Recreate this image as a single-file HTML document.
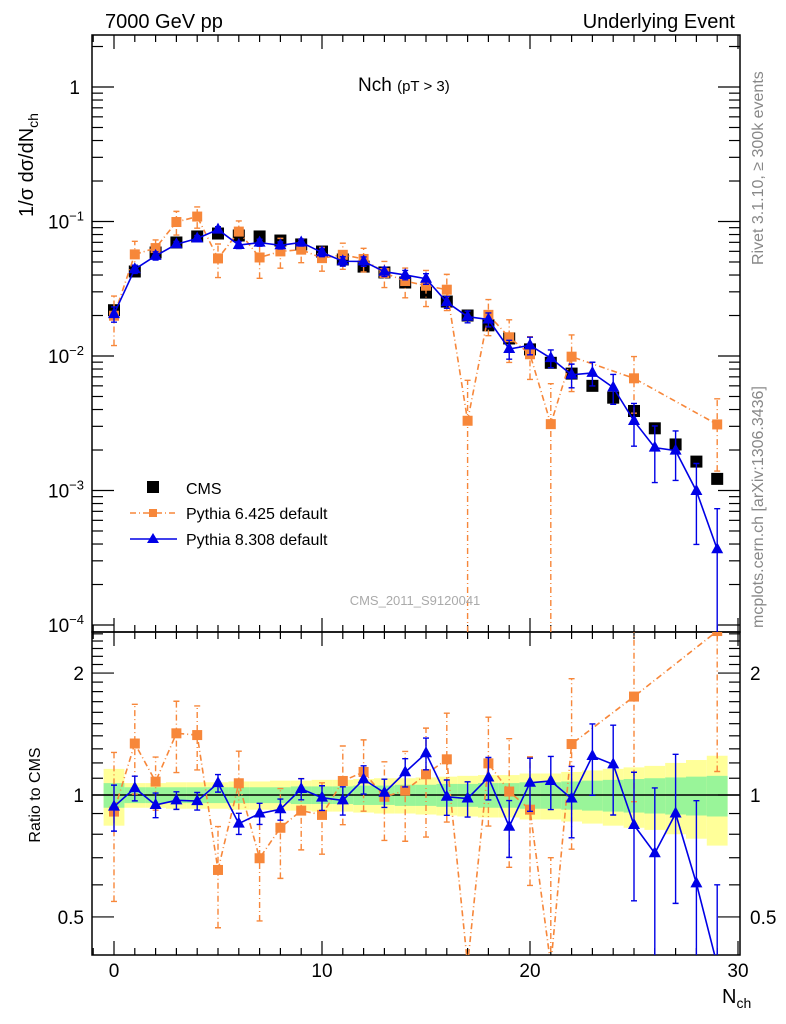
<!DOCTYPE html>
<html><head><meta charset="utf-8"><style>
html,body{margin:0;padding:0;background:#fff;width:786px;height:1024px;overflow:hidden;}
svg{display:block;font-family:"Liberation Sans","DejaVu Sans",sans-serif;}
</style></head><body>
<svg id="c" width="786" height="1024" viewBox="0 0 786 1024">
<defs>
<clipPath id="cm"><rect x="92" y="35" width="648" height="597"/></clipPath>
<clipPath id="cr"><rect x="92" y="632" width="648" height="323"/></clipPath>
</defs>
<g id="bands" clip-path="url(#cr)"></g>
<g id="grid"></g>
<rect x="92" y="35" width="648" height="597" fill="none" stroke="#000" stroke-width="1.5"/>
<rect x="92" y="632" width="648" height="323" fill="none" stroke="#000" stroke-width="1.5"/>
<g id="mainMarks" clip-path="url(#cm)"></g>
<g id="ratioMarks" clip-path="url(#cr)"></g>
<text x="105" y="28" font-size="20">7000 GeV pp</text>
<text x="735" y="28" font-size="20" text-anchor="end">Underlying Event</text>
<text x="358" y="91" font-size="19">Nch <tspan font-size="15">(pT &gt;  3)</tspan></text>
<text transform="translate(33,165) rotate(-90)" font-size="20" text-anchor="middle">1/σ dσ/dN<tspan font-size="14" dy="5">ch</tspan></text>
<text transform="translate(40,795) rotate(-90)" font-size="16" text-anchor="middle">Ratio to CMS</text>
<text x="722" y="1003" font-size="20">N<tspan font-size="14" dy="5">ch</tspan></text>
<text transform="translate(763,265) rotate(-90)" font-size="16" fill="#888">Rivet 3.1.10, ≥ 300k events</text>
<text transform="translate(763,628) rotate(-90)" font-size="16" fill="#888">mcplots.cern.ch [arXiv:1306.3436]</text>
<text x="415" y="605" font-size="13" fill="#aaa" text-anchor="middle">CMS_2011_S9120041</text>
<g>
<rect x="147" y="481" width="12" height="12" fill="#000"/>
<text x="186" y="494" font-size="16">CMS</text>
<line x1="130" y1="513" x2="177" y2="513" stroke="#f7873a" stroke-width="1.5" stroke-dasharray="6,3,1,3"/>
<rect x="149" y="509" width="8" height="8" fill="#f7873a"/>
<text x="186" y="519" font-size="16">Pythia 6.425 default</text>
<line x1="130" y1="539" x2="177" y2="539" stroke="#0000e6" stroke-width="1.5"/>
<path d="M153,533 L159,543 L147,543 Z" fill="#0000e6"/>
<text x="186" y="545" font-size="16">Pythia 8.308 default</text>
</g>
</svg>
<script>
const nch = [0,1,2,3,4,5,6,7,8,9,10,11,12,13,14,15,16,17,18,19,20,21,22,23,24,25,26,27,28,29];
const cmsValues = [0.0219,0.0425,0.0588,0.0698,0.0774,0.0814,0.0787,0.0774,0.0722,0.0675,0.0598,0.0522,0.0462,0.0418,0.0352,0.0296,0.0254,0.0200,0.0169,0.0135,0.0112,0.0089,0.0074,0.0060,0.0049,0.0039,0.0029,0.0022,0.00164,0.00122];
const pythia6Ratio = [0.91,1.34,1.079,1.42,1.406,0.653,1.069,0.698,0.83,0.915,0.893,1.083,1.14,0.99,1.025,1.125,1.225,0.165,1.197,1.02,0.92,0.35,1.336,null,null,1.75,null,null,null,2.54];
const pythia6Err = [0.4,0.25,0.15,0.2,0.18,0.28,0.2,0.3,0.25,0.2,0.2,0.22,0.2,0.22,0.25,0.3,0.3,1.0,0.3,0.35,0.35,1.0,0.45,null,null,0.45,null,null,null,0.55];
const pythia8Ratio = [0.936,1.04,0.945,0.97,0.966,1.07,0.85,0.90,0.922,1.035,0.985,0.97,1.093,1.013,1.138,1.268,0.99,0.98,1.105,0.835,1.072,1.083,0.98,1.248,1.19,0.843,0.718,0.90,0.605,0.30];
const pythia8Err = [0.13,0.07,0.07,0.05,0.05,0.05,0.06,0.06,0.06,0.06,0.07,0.08,0.08,0.08,0.08,0.09,0.1,0.1,0.12,0.16,0.15,0.15,0.2,0.2,0.25,0.35,0.45,0.4,0.6,1.0];
const greenBand = [0.07,0.045,0.045,0.045,0.045,0.045,0.045,0.045,0.045,0.05,0.05,0.05,0.055,0.055,0.06,0.06,0.065,0.065,0.07,0.07,0.075,0.075,0.08,0.085,0.09,0.095,0.1,0.105,0.11,0.115];
const yellowBand = [0.16,0.07,0.07,0.075,0.075,0.075,0.08,0.08,0.085,0.085,0.09,0.09,0.095,0.1,0.1,0.105,0.11,0.115,0.12,0.12,0.13,0.13,0.14,0.15,0.16,0.17,0.18,0.2,0.22,0.25];
const xTicks = [0,10,20,30];
const mainDecades = [-4,-3,-2,-1,0];
const ratioLabels = [0.5,1,2];

const NS="http://www.w3.org/2000/svg";
const X = v => 114 + 20.8*v;
const clampY = (y,a,b) => Math.max(a,Math.min(b,y));
const YM = v => clampY(87 - 134.5*Math.log10(v), 20, 645);
const YR = v => clampY(795 - 405*Math.log10(v), 620, 965);
function mk(parent,tag,attrs){const e=document.createElementNS(NS,tag);for(const k in attrs)e.setAttribute(k,attrs[k]);parent.appendChild(e);return e;}
const grid=document.getElementById('grid'), mm=document.getElementById('mainMarks'), rm=document.getElementById('ratioMarks'), bands=document.getElementById('bands');
const O="#f7873a", B="#0000e6";

nch.forEach((n,i)=>{
  let r=mk(bands,'rect',{x:X(n-0.5),width:20.8,y:YR(1+yellowBand[i]),height:YR(1-yellowBand[i])-YR(1+yellowBand[i]),fill:'#ffff99'});
  
  
});
nch.forEach((n,i)=>{
  let r=mk(bands,'rect',{x:X(n-0.5),width:20.8,y:YR(1+greenBand[i]),height:YR(1-greenBand[i])-YR(1+greenBand[i]),fill:'#99f599'});
  
  
});
let ref=mk(bands,'line',{x1:92,x2:740,y1:YR(1),y2:YR(1),stroke:'#000','stroke-width':1.5});



for(let v=-1;v<=30;v++){
  const major = v%10===0, len = major?14:7;
  [[35,1],[632,-1],[632,1],[955,-1]].forEach(([y0,d])=>{
    let t=mk(grid,'line',{x1:X(v),x2:X(v),y1:y0,y2:y0+d*len,stroke:'#000','stroke-width':1.2});
    
    
  });
}
xTicks.forEach(v=>{
  let t=mk(grid,'text',{x:X(v),y:977,'font-size':19,'text-anchor':'middle'});t.textContent=v;
  
  
});
mainDecades.forEach(d=>{
  for(let m=1;m<=9;m++){
    const v=m*Math.pow(10,d), y=87 - 134.5*Math.log10(v);
    if(y<35||y>632)continue;
    const len=m===1?22:11;
    let t=mk(grid,'line',{x1:92,x2:92+len,y1:y,y2:y,stroke:'#000','stroke-width':1.2});
    
    
    let t2=mk(grid,'line',{x1:740,x2:740-len,y1:y,y2:y,stroke:'#000','stroke-width':1.2});
    
    
  }
  const y=YM(Math.pow(10,d));
  let lbl=mk(grid,'text',{x:d===0?80:84,y:y+7,'font-size':19,'text-anchor':'end'});
  if(d===0){lbl.textContent='1';}
  else{lbl.textContent='10';let s=mk(lbl,'tspan',{dy:-8,'font-size':13});s.textContent=String(d).replace('-','−');}
  
  
});
const rt=[];for(let v=0.5;v<2.55;v+=0.1)rt.push(+v.toFixed(1));
rt.forEach(v=>{
  const y=795 - 405*Math.log10(v); if(y<632||y>955)return;
  const len=(v===0.5||v===1||v===2)?22:11;
  let t=mk(grid,'line',{x1:92,x2:92+len,y1:y,y2:y,stroke:'#000','stroke-width':1.2});
  
  
  let t2=mk(grid,'line',{x1:740,x2:740-len,y1:y,y2:y,stroke:'#000','stroke-width':1.2});
  
  
});
ratioLabels.forEach(v=>{
  let a=mk(grid,'text',{x:84,y:YR(v)+7,'font-size':19,'text-anchor':'end'});a.textContent=v;
  
  
  let b=mk(grid,'text',{x:750,y:YR(v)+7,'font-size':19});b.textContent=v;
  
  
});

function series(g,Y,vals,errs,color,dash,marker,name){
  let d='';vals.forEach((v,i)=>{if(v==null)return;d+=(d?'L':'M')+X(nch[i])+','+Y(v);});
  let p=mk(g,'path',{d:d,fill:'none',stroke:color,'stroke-width':1.6,'stroke-dasharray':dash});
  
  
  vals.forEach((v,i)=>{
    if(v==null)return;
    const x=X(nch[i]), e=errs[i], lo=Math.max(v*(1-e),1e-9), hi=v*(1+e);
    let eb=mk(g,'path',{d:`M${x},${Y(lo)}L${x},${Y(hi)}M${x-3},${Y(lo)}L${x+3},${Y(lo)}M${x-3},${Y(hi)}L${x+3},${Y(hi)}`,stroke:color,'stroke-width':1.4,'stroke-dasharray':dash,fill:'none'});
    
    
    let m;
    if(marker==='sq') m=mk(g,'rect',{x:x-5,y:Y(v)-5,width:10,height:10,fill:color});
    else m=mk(g,'path',{d:`M${x},${Y(v)-7}L${x+6},${Y(v)+4}L${x-6},${Y(v)+4}Z`,fill:color});
    
    
  });
}
const p6Main=cmsValues.map((c,i)=>pythia6Ratio[i]==null?null:c*pythia6Ratio[i]);
const p8Main=cmsValues.map((c,i)=>c*pythia8Ratio[i]);
cmsValues.forEach((v,i)=>{
  let m=mk(mm,'rect',{x:X(nch[i])-6,y:YM(v)-6,width:12,height:12,fill:'#000'});
  
  
});
series(mm,YM,p6Main,pythia6Err,O,'6,3,1,3','sq','pythia6');
series(mm,YM,p8Main,pythia8Err,B,'none','tri','pythia8');
series(rm,YR,pythia6Ratio,pythia6Err,O,'6,3,1,3','sq','pythia6-ratio');
series(rm,YR,pythia8Ratio,pythia8Err,B,'none','tri','pythia8-ratio');
</script>
</body></html>
